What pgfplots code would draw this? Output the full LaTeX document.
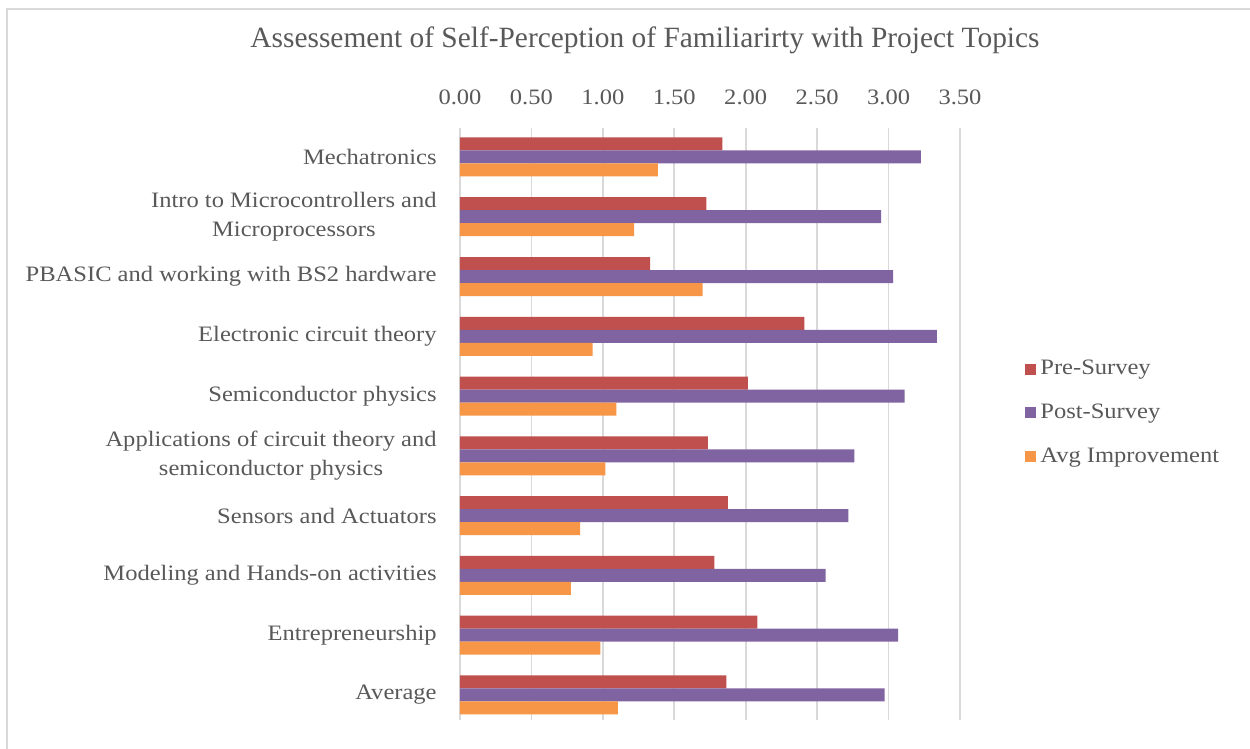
\documentclass[border=0pt]{standalone}
\usepackage{fontspec}
\setmainfont{Liberation Serif}
\newfontfamily\lab{Liberation Serif}[FakeStretch=1.115]
\usepackage{pgfplots}
\pgfplotsset{compat=1.18}
\definecolor{pre}{HTML}{C0504D}
\definecolor{post}{HTML}{8064A2}
\definecolor{avg}{HTML}{F79646}
\definecolor{txt}{HTML}{595959}
\definecolor{grd}{HTML}{D9D9D9}
\begin{document}
\begin{tikzpicture}
\useasboundingbox (0,0) rectangle (625pt,374.5pt);
\fill[white] (0,0) rectangle (625pt,374.5pt);
\draw[grd, line width=1pt] (3.5pt,-5pt) -- (3.5pt,370pt) -- (630pt,370pt);
\begin{axis}[
  at={(230pt,14.5pt)}, anchor=south west,
  scale only axis, width=250pt, height=296pt,
  xmin=0, xmax=3.5, ymin=-0.485, ymax=9.42, y dir=reverse,
  xtick={0,0.5,...,3.5},
  xticklabel pos=upper,
  xmajorgrids, major grid style={grd, line width=0.8pt},
  axis line style={draw=none}, tick style={draw=none}, major tick length=0pt,
  /pgf/number format/.cd, fixed, fixed zerofill, precision=2, assume math mode=true, /pgfplots/.cd,
  xticklabel style={font=\lab\fontsize{11}{13}\selectfont, text=txt, anchor=center, yshift=15.5pt},
  ytick={0,...,9},
  yticklabels={Mechatronics, {Intro to Microcontrollers and\\Microprocessors}, PBASIC and working with BS2 hardware, Electronic circuit theory, Semiconductor physics, {Applications of circuit theory and\\semiconductor physics}, Sensors and Actuators, Modeling and Hands-on activities, Entrepreneurship, Average},
  yticklabel style={font=\lab\fontsize{11}{14.5}\selectfont, text=txt, align=center, anchor=east, inner sep=0pt, xshift=-11.5pt},
  xbar, bar width=6.5pt,
  title={Assessement of Self-Perception of Familiarirty with Project Topics},
  title style={font=\fontsize{14.7}{17}\selectfont, text=txt, at={(axis description cs:0.37,1)}, anchor=center, yshift=38pt},
  legend style={draw=none, fill=none, at={(axis description cs:1.13,0.519)}, anchor=west, font=\lab\fontsize{11}{13}\selectfont, text=txt, row sep=9pt, inner sep=0pt, cells={anchor=west}},
  legend image code/.code={\fill[#1] (0pt,-2.75pt) rectangle (5.5pt,2.75pt);},
]
\addplot[fill=pre, draw=none, bar shift=6.5pt] coordinates {
(1.836,0) (1.725,1) (1.331,2) (2.41,3) (2.016,4) (1.736,5) (1.876,6) (1.78,7) (2.081,8) (1.864,9)};
\addplot[fill=post, draw=none, bar shift=0pt] coordinates {
(3.226,0) (2.948,1) (3.032,2) (3.338,3) (3.112,4) (2.76,5) (2.718,6) (2.559,7) (3.067,8) (2.972,9)};
\addplot[fill=avg, draw=none, bar shift=-6.5pt] coordinates {
(1.385,0) (1.219,1) (1.699,2) (0.928,3) (1.095,4) (1.018,5) (0.841,6) (0.776,7) (0.983,8) (1.105,9)};
\legend{Pre-Survey, Post-Survey, Avg Improvement}
\end{axis}
\end{tikzpicture}
\end{document}
